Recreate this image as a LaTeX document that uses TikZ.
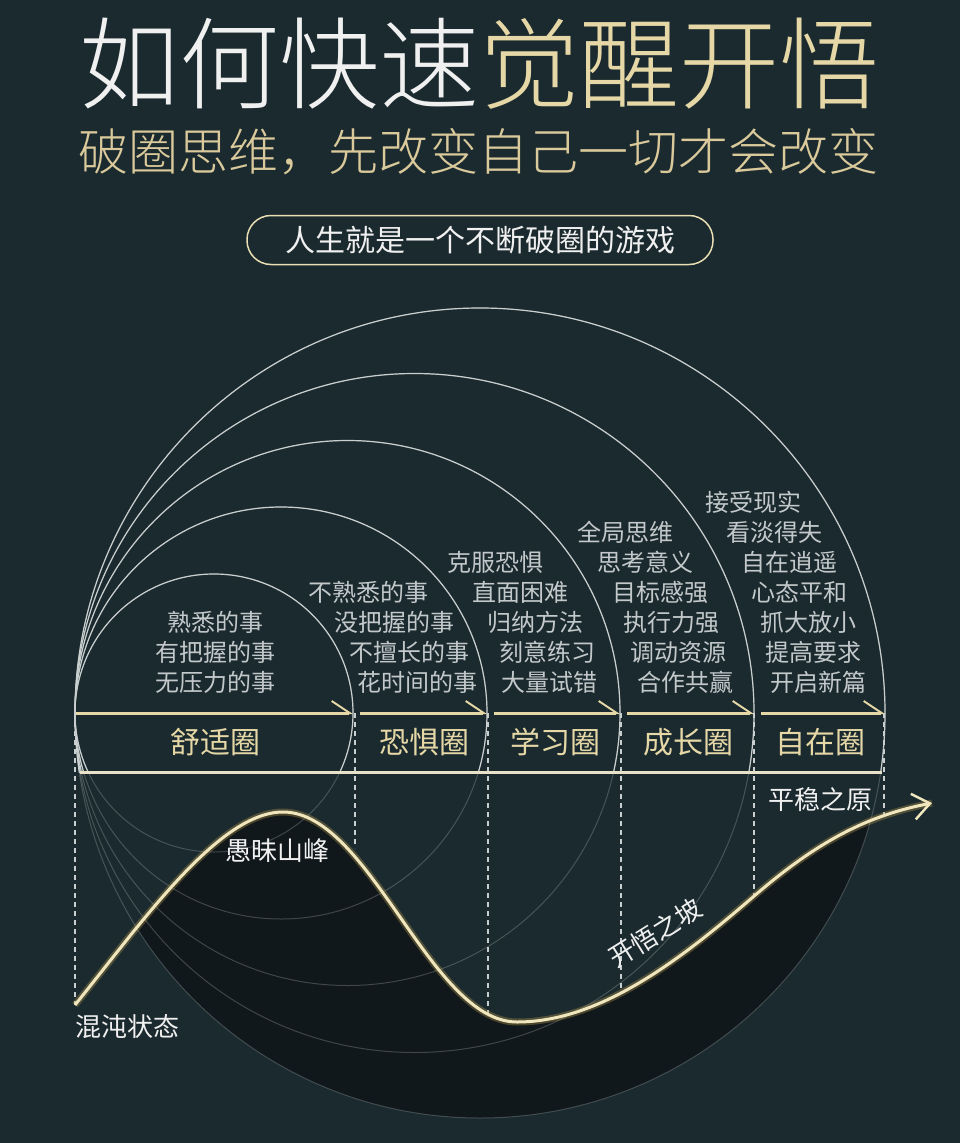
\documentclass[tikz,border=0pt]{standalone}
\usepackage{fontspec}
\setmainfont{Noto Sans CJK SC}
\newfontfamily\thinfont{Noto Sans CJK SC}[UprightFont={* Light}]
\usetikzlibrary{arrows.meta, positioning}

\definecolor{bgteal}{HTML}{1B2A2F}
\definecolor{shadefill}{HTML}{11181C}
\definecolor{paleGold}{HTML}{E6D8A6}
\definecolor{subGold}{HTML}{D9C99B}
\definecolor{arcGrey}{HTML}{C9CFCF}
\definecolor{itemGrey}{HTML}{C3C9CA}
\definecolor{curveGold}{HTML}{F0E6BE}
\definecolor{glowGold}{HTML}{B8994A}
\definecolor{bandLine}{HTML}{E9E2C8}

\tikzset{
    fsz/.style={font=\fontsize{#1}{#1}\selectfont},
    item/.style={fsz=24, text=itemGrey, inner sep=0pt},
    zone/.style={fsz=30, text=paleGold, inner sep=0pt},
    stage/.style={fsz=26, text=white!94!black, inner sep=0pt},
    ring/.style={draw=arcGrey, line width=1.2pt},
    faintring/.style={draw=arcGrey, opacity=0.25, line width=1pt},
    guide/.style={draw=arcGrey, line width=1.1pt, dash pattern=on 5pt off 4pt},
    zonearrow/.style={draw=paleGold, line width=3pt,
        -{Straight Barb[harpoon, length=18pt, width=24pt, line width=2pt]}}
}

\begin{document}
\begin{tikzpicture}[x=1pt, y=-1pt]
    \fill[bgteal] (0,0) rectangle (960,1143);
    \useasboundingbox (0,0) rectangle (960,1143);

    % heading
    \node[font=\thinfont\fontsize{100}{100}\selectfont, inner sep=0pt] (title) at (479,64)
        {\color{white!94!black}如何快速\color{paleGold}觉醒开悟};
    \node[font=\thinfont\fontsize{50}{50}\selectfont, text=subGold, inner sep=0pt] (subtitle) at (478,152)
        {破圈思维，先改变自己一切才会改变};
    \node[draw=paleGold!85!white, line width=1.5pt, rounded corners=24pt,
          minimum width=466pt, minimum height=49pt, inner sep=0pt,
          fsz=30, text=white!94!black] (motto) at (480,240)
        {人生就是一个不断破圈的游戏};

    % key points of the life curve
    \coordinate (chaos) at (75,1005);
    \coordinate (peak) at (283,812);
    \coordinate (valley) at (517,1022);
    \coordinate (slope) at (753,897);
    \coordinate (plain) at (932,803);

    % shadow under the curve
    \begin{scope}
        \clip (480,713) circle[radius=405];
        \fill[shadefill] (chaos) .. controls (145,918) and (220,812) .. (peak)
            .. controls (370,812) and (430,1022) .. (valley)
            .. controls (600,1022) and (680,960) .. (slope)
            .. controls (820,839) and (870,815) .. (plain)
            -- (932,1143) -- (75,1143) -- cycle;
    \end{scope}

    % circles
    \foreach \r in {139,206,272.5,339.5,405}
        \draw[faintring] (75+\r,713) circle[radius=\r];
    \begin{scope}
        \clip (0,0) rectangle (960,772);
        \foreach \r in {139,206,272.5,339.5,405}
            \draw[ring] (75+\r,713) circle[radius=\r];
    \end{scope}

    % guides down to the curve
    \foreach \gx/\gy in {75/1005, 355/848, 488/1013, 621/990, 754/897, 884/814}
        \draw[guide] (\gx,713) -- (\gx,\gy);

    % zone band
    \foreach \ax/\bx in {76/353, 360/487, 494/620, 627/754, 761/885}
        \draw[zonearrow] (\ax,713) -- (\bx,713);
    \draw[draw=bandLine, line width=3pt] (80,772) -- (882,772);

    \node[zone] (comfort) at (215,742) {舒适圈};
    \node[zone] (fear) at (424,742) {恐惧圈};
    \node[zone] (learn) at (555,742) {学习圈};
    \node[zone] (grow) at (688,742) {成长圈};
    \node[zone] (free) at (820,742) {自在圈};

    % what each circle holds
    \foreach \tx/\ty/\tt [count=\i] in {215/622/熟悉的事, 215/652/有把握的事, 215/682/无压力的事}
        \node[item] (comfort\i) at (\tx,\ty) {\tt};
    \foreach \tx/\ty/\tt [count=\i] in {368/592/不熟悉的事, 394/622/没把握的事,
            409/652/不擅长的事, 417/682/花时间的事}
        \node[item] (fear\i) at (\tx,\ty) {\tt};
    \foreach \tx/\ty/\tt [count=\i] in {495/562/克服恐惧, 520/592/直面困难,
            535/622/归纳方法, 547/652/刻意练习, 549/682/大量试错}
        \node[item] (learn\i) at (\tx,\ty) {\tt};
    \foreach \tx/\ty/\tt [count=\i] in {625/532/全局思维, 645/562/思考意义,
            660/592/目标感强, 671/622/执行力强, 678/652/调动资源, 685/682/合作共赢}
        \node[item] (grow\i) at (\tx,\ty) {\tt};
    \foreach \tx/\ty/\tt [count=\i] in {753/502/接受现实, 774/532/看淡得失,
            789/562/自在逍遥, 799/592/心态平和, 808/622/抓大放小,
            813/652/提高要求, 818/682/开启新篇}
        \node[item] (free\i) at (\tx,\ty) {\tt};

    % life curve
    \draw[glowGold, opacity=0.35, line width=7pt]
        (chaos) .. controls (145,918) and (220,812) .. (peak)
        .. controls (370,812) and (430,1022) .. (valley)
        .. controls (600,1022) and (680,960) .. (slope)
        .. controls (820,839) and (870,815) .. (plain);
    \draw[curveGold, line width=3pt,
          -{Straight Barb[length=17pt, width=26pt, line width=2.5pt]}]
        (chaos) .. controls (145,918) and (220,812) .. (peak)
        .. controls (370,812) and (430,1022) .. (valley)
        .. controls (600,1022) and (680,960) .. (slope)
        .. controls (820,839) and (870,815) .. (plain);

    \node[stage, anchor=west] (chaoslbl) at (75,1027) {混沌状态};
    \node[stage] (peaklbl) at (277,851) {愚昧山峰};
    \node[stage, rotate=32] (slopelbl) at (655,933) {开悟之坡};
    \node[stage] (plainlbl) at (820,800) {平稳之原};
\end{tikzpicture}
\end{document}
